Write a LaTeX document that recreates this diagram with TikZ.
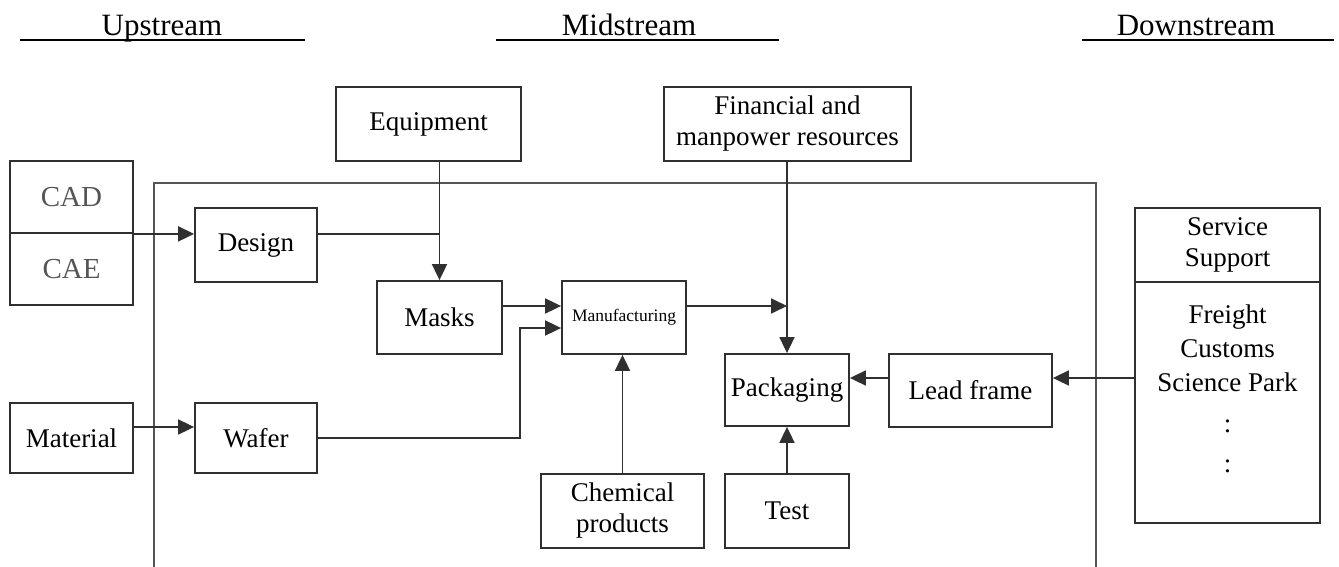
\documentclass[tikz,border=0pt]{standalone}
\usepackage{fontspec}
\setmainfont{Liberation Serif}
\usetikzlibrary{arrows.meta,calc}
\definecolor{ink}{HTML}{303030}
\definecolor{framec}{HTML}{555555}
\definecolor{cadgray}{HTML}{555555}
\begin{document}
\begin{tikzpicture}[x=1pt,y=-1pt,
  box/.style={draw=ink,line width=1.8pt,inner sep=0pt,align=center,font=\fontsize{27}{31}\selectfont},
  txt/.style={inner sep=0pt,align=center,font=\fontsize{27}{34}\selectfont},
  hdr/.style={inner sep=0pt,font=\fontsize{31}{36}\selectfont},
  uline/.style={line width=2pt,black},
  ln/.style={draw=ink,line width=1.8pt},
  arr/.style={draw=ink,line width=1.8pt,-{Triangle[length=16pt,width=15pt]}},
  frame/.style={draw=framec,line width=1.6pt}]
\useasboundingbox (0,0) rectangle (1339,567);
% headers
\node[hdr,anchor=base] (up) at (162,36) {Upstream};
\node[hdr,anchor=base] (mid) at (629,36) {Midstream};
\node[hdr,anchor=base] (down) at (1196,36) {Downstream};
\draw[uline] ($(up.base)+(-142,4)$) -- ($(up.base)+(143,4)$);
\draw[uline] ($(mid.base)+(-133,4)$) -- ($(mid.base)+(150,4)$);
\draw[uline] ($(down.base)+(-114,4)$) -- ($(down.base)+(138,4)$);
% frame
\draw[frame] (154,567) -- (154,183) -- (1096,183) -- (1096,567);
% boxes
\node[box,minimum width=185pt,minimum height=74pt] (equip) at (428.5,124) {Equipment};
\node[box,minimum width=247pt,minimum height=74pt] (fin) at (787.5,124) {Financial and\\manpower resources};
\node[box,minimum width=123pt,minimum height=72pt,text=cadgray,font=\fontsize{29}{33}\selectfont] (cad) at (71.5,197) {CAD};
\node[box,minimum width=123pt,minimum height=72pt,text=cadgray,font=\fontsize{29}{33}\selectfont] (cae) at (71.5,269) {CAE};
\node[box,minimum width=122pt,minimum height=74pt] (design) at (256,245) {Design};
\node[box,minimum width=125pt,minimum height=73pt] (masks) at (439.5,317.5) {Masks};
\node[box,minimum width=124pt,minimum height=73pt,font=\fontsize{17.5}{20}\selectfont] (manuf) at (624,317.5) {Manufacturing};
\node[box,minimum width=124pt,minimum height=72pt] (pack) at (787,390) {Packaging};
\node[box,minimum width=163pt,minimum height=73pt] (lead) at (970.5,390.5) {Lead frame};
\node[box,minimum width=185pt,minimum height=74pt] (serv) at (1227.5,245) {Service\\Support};
\node[box,minimum width=185pt,minimum height=241pt] (servlist) at (1227.5,402.5) {};
\node[txt,anchor=north] (servtext) at (1227.5,305) {Freight\\Customs\\Science Park\\[7pt]:\\[6pt]:};
\node[box,minimum width=123pt,minimum height=70pt] (material) at (71.5,438) {Material};
\node[box,minimum width=122pt,minimum height=70pt] (wafer) at (256,438) {Wafer};
\node[box,minimum width=163pt,minimum height=74pt] (chem) at (622.5,511) {Chemical\\products};
\node[box,minimum width=124pt,minimum height=74pt] (test) at (787,511) {Test};
% connectors
\draw[arr] (cad.south east) -- (cad.south east -| design.west);
\draw[ln] (cad.south east -| design.east) -- (cad.south east -| masks.north);
\draw[arr] (equip.south -| masks.north) -- (masks.north);
\coordinate (mk) at ([yshift=11.5pt]masks.east);
\draw[arr] (mk) -- (mk -| manuf.west);
\draw[arr] (mk -| manuf.east) -- (mk -| pack.north);
\coordinate (wk) at ([yshift=-10.5pt]manuf.west);
\coordinate (wx) at ([xshift=-41pt]wk);
\draw[arr] (wafer.east) -| (wx) -- (wk);
\draw[arr] (fin.south -| pack.north) -- (pack.north);
\draw[arr] (chem.north) -- (chem.north |- manuf.south);
\draw[arr] (test.north) -- (pack.south);
\coordinate (pk) at ([yshift=12pt]pack.east);
\draw[arr] (pk -| lead.west) -- (pk);
\draw[arr] (pk -| servlist.west) -- (pk -| lead.east);
\coordinate (mt) at ([yshift=11pt]material.east);
\draw[arr] (mt) -- (mt -| wafer.west);
\end{tikzpicture}
\end{document}
